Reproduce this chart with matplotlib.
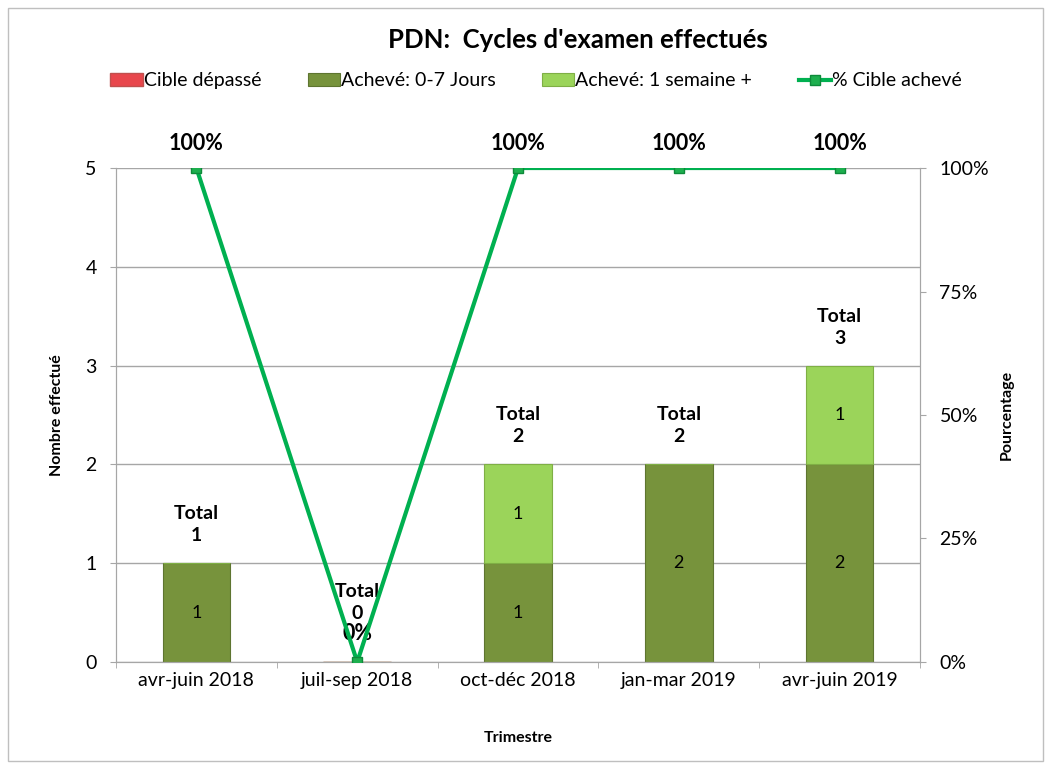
import matplotlib
matplotlib.use("Agg")
import matplotlib.pyplot as plt
import numpy as np

plt.rcParams["font.family"] = ["Lato", "DejaVu Sans"]

quarters = ["avr-juin 2018", "juil-sep 2018", "oct-déc 2018", "jan-mar 2019", "avr-juin 2019"]
cible_depasse = [0, 0, 0, 0, 0]
acheve_0_7 = [1, 0, 1, 2, 2]
acheve_1_sem = [0, 0, 1, 0, 1]
pct_acheve = [100, 0, 100, 100, 100]

dark_green = "#77933C"
light_green = "#9BD45A"
red = "#E8474C"
line_green = "#00B050"

fig = plt.figure(figsize=(10.51, 7.70), dpi=100)
ax = fig.add_axes([0.1104, 0.1403, 0.7650, 0.6415])
ax2 = ax.twinx()

# frame around the whole chart
fig.patches.append(plt.Rectangle((0.008, 0.012), 0.984, 0.978, transform=fig.transFigure,
                                 fill=False, edgecolor="#BFBFBF", linewidth=1))

x = np.arange(len(quarters))
w = 0.42
ax.bar(x, cible_depasse, w, color=red, edgecolor="#C0504D", label="Cible dépassé")
ax.bar(x, acheve_0_7, w, color=dark_green, edgecolor="#5E7530", linewidth=0.8,
       label="Achevé: 0-7 Jours")
ax.bar(x, acheve_1_sem, w, bottom=acheve_0_7, color=light_green, edgecolor="#7FAF45",
       linewidth=0.8, label="Achevé: 1 semaine +")

for i in range(len(quarters)):
    if acheve_0_7[i]:
        ax.text(x[i], acheve_0_7[i] / 2, str(acheve_0_7[i]), ha="center", va="center", fontsize=13)
    if acheve_1_sem[i]:
        ax.text(x[i], acheve_0_7[i] + acheve_1_sem[i] / 2, str(acheve_1_sem[i]),
                ha="center", va="center", fontsize=13)
    total = cible_depasse[i] + acheve_0_7[i] + acheve_1_sem[i]
    ytxt = total + 0.39 if total else 0.6
    ax.text(x[i], ytxt, "Total\n%d" % total, ha="center", va="center",
            fontsize=14, fontweight="bold", linespacing=1.35)

line, = ax2.plot(x, pct_acheve, color=line_green, linewidth=3, marker="s", markersize=7,
                 markerfacecolor="#1DAF4E", markeredgecolor="#0E8A3A", zorder=5,
                 label="% Cible achevé")
for i in range(len(quarters)):
    off = 5 if pct_acheve[i] else 5.7
    ax2.text(x[i], pct_acheve[i] + off, "%d%%" % pct_acheve[i], ha="center", va="center",
             fontsize=15.5, fontweight="bold")

ax.set_xlim(-0.5, len(quarters) - 0.5)
ax.set_ylim(0, 5)
ax2.set_ylim(0, 100)
ax.set_yticks(range(0, 6))
ax2.set_yticks([0, 25, 50, 75, 100])
ax2.set_yticklabels(["0%", "25%", "50%", "75%", "100%"])
ax.set_xticks(x)
ax.set_xticklabels(quarters)
ax.set_xticks(np.arange(-0.5, len(quarters)), minor=True)

ax.grid(axis="y", color="#A6A6A6", linewidth=1)
ax.set_axisbelow(True)
for a in (ax, ax2):
    a.spines["top"].set_visible(False)
    for s in ("left", "right", "bottom"):
        a.spines[s].set_color("#A6A6A6")
ax.tick_params(axis="x", which="major", length=0, labelsize=14, pad=7)
ax.tick_params(axis="x", which="minor", length=4, color="#A6A6A6")
ax.tick_params(axis="y", length=4, color="#A6A6A6", labelsize=14, pad=10)
ax2.tick_params(axis="y", length=4, color="#A6A6A6", labelsize=14, pad=10)

ax.set_xlabel("Trimestre", fontsize=11.5, fontweight="bold", va="center")
ax.xaxis.set_label_coords(0.5, -0.154)
ax.set_ylabel("Nombre effectué", fontsize=11.5, fontweight="bold", va="center")
ax.yaxis.set_label_coords(-0.0734, 0.5)
ax2.set_ylabel("Pourcentage", fontsize=11.5, fontweight="bold", va="center")
ax2.yaxis.set_label_coords(1.108, 0.5)

fig.text(0.55, 0.948, "PDN:  Cycles d'examen effectués", ha="center", va="center",
         fontsize=18.5, fontweight="bold")

handles, labels = ax.get_legend_handles_labels()
fig.legend(handles + [line], labels + ["% Cible achevé"], loc="center", ncol=4,
           bbox_to_anchor=(0.51, 0.895), frameon=False, fontsize=14,
           handlelength=1.65, handleheight=0.6, handletextpad=0.05, columnspacing=2.4)

fig.savefig("out.png", dpi=100)
